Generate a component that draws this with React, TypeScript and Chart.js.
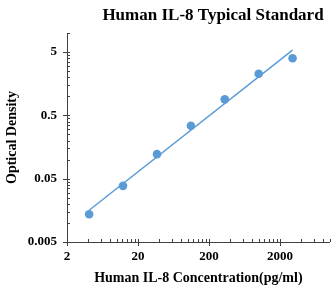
import React, { useEffect, useRef } from "react";
import { Chart, registerables } from "chart.js";

Chart.register(...registerables);

const concentrations = [4.1, 12.3, 37, 111, 333, 1000, 3000];
const odValues = [0.0137, 0.0385, 0.122, 0.342, 0.895, 2.27, 3.99];
const xMajorTicks = [2, 20, 200, 2000];
const yMajorTicks = [0.005, 0.05, 0.5, 5];
const minorMultipliers = [2, 3, 4, 5, 6, 7, 8, 9];
const chartTitle = "Human IL-8 Typical Standard";
const xTitle = "Human IL-8 Concentration(pg/ml)";
const yTitle = "Optical Density";

const BLUE = "#5B9BD5";
const AXIS = "#404040";
const FONT = "'Liberation Serif', 'Times New Roman', serif";

function buildTicks(majors: number[], max: number) {
  const out: number[] = [];
  majors.forEach((m) => {
    out.push(m);
    minorMultipliers.forEach((k) => {
      const v = +(m * k).toPrecision(6);
      if (v <= max + 1e-12) out.push(v);
    });
  });
  return out.filter((v) => v <= max + 1e-12);
}

function powerFit(xs: number[], ys: number[]) {
  const lx = xs.map(Math.log10);
  const ly = ys.map(Math.log10);
  const n = lx.length;
  const mx = lx.reduce((a, b) => a + b, 0) / n;
  const my = ly.reduce((a, b) => a + b, 0) / n;
  let sxy = 0;
  let sxx = 0;
  for (let i = 0; i < n; i++) {
    sxy += (lx[i] - mx) * (ly[i] - my);
    sxx += (lx[i] - mx) * (lx[i] - mx);
  }
  const b = sxy / sxx;
  const a = my - b * mx;
  return (x: number) => Math.pow(10, a + b * Math.log10(x));
}

export default function App() {
  const ref = useRef<HTMLCanvasElement>(null);

  useEffect(() => {
    if (!ref.current) return;
    const xMin = 2, xMax = 10000, yMin = 0.005, yMax = 10;
    const xTicks = buildTicks(xMajorTicks, xMax);
    const yTicks = buildTicks(yMajorTicks, yMax);
    const fit = powerFit(concentrations, odValues);
    const xLo = Math.min(...concentrations);
    const xHi = Math.max(...concentrations);
    const trend = [
      { x: xLo, y: fit(xLo) },
      { x: xHi, y: fit(xHi) },
    ];

    const tickPlugin = {
      id: "customTicks",
      afterDraw(chart: any) {
        const ctx = chart.ctx;
        const xs = chart.scales.x;
        const ys = chart.scales.y;
        const area = chart.chartArea;
        ctx.save();
        ctx.strokeStyle = AXIS;
        ctx.lineWidth = 1;
        ctx.beginPath();
        xTicks.forEach((v) => {
          const px = Math.round(xs.getPixelForValue(v)) + 0.5;
          const major = xMajorTicks.includes(v);
          ctx.moveTo(px, area.bottom - 3);
          ctx.lineTo(px, area.bottom + (major ? 4 : 0));
        });
        yTicks.forEach((v) => {
          const py = Math.round(ys.getPixelForValue(v)) + 0.5;
          const major = yMajorTicks.includes(v);
          ctx.moveTo(area.left - (major ? 4 : 0), py);
          ctx.lineTo(area.left + 3, py);
        });
        ctx.stroke();
        ctx.fillStyle = "#000";
        ctx.font = `bold 17px ${FONT}`;
        ctx.textAlign = "center";
        ctx.textBaseline = "middle";
        ctx.fillText(chartTitle, 213, 16);
        ctx.restore();
      },
    };

    const chart = new Chart(ref.current, {
      type: "scatter",
      data: {
        datasets: [
          {
            data: trend,
            showLine: true,
            borderColor: BLUE,
            borderWidth: 1.5,
            pointRadius: 0,
            fill: false,
          },
          {
            data: concentrations.map((x, i) => ({ x, y: odValues[i] })),
            backgroundColor: BLUE,
            borderColor: BLUE,
            pointRadius: 4.3,
            borderWidth: 0,
            showLine: false,
          },
        ],
      },
      options: {
        animation: false,
        responsive: false,
        devicePixelRatio: 1,
        layout: { padding: { top: 33, right: 0, left: 0, bottom: 0 } },
        plugins: {
          legend: { display: false },
          title: { display: false },
          tooltip: { enabled: false },
        },
        scales: {
          x: {
            type: "logarithmic",
            min: xMin,
            max: xMax,
            afterBuildTicks: (s: any) => {
              s.ticks = xTicks.map((v) => ({ value: v }));
            },
            afterFit: (s: any) => {
              s.height = 44;
              s.paddingRight = 0;
              s.paddingLeft = 0;
            },
            grid: { display: false, drawTicks: false },
            border: { display: true, color: AXIS, width: 1 },
            ticks: {
              autoSkip: false,
              maxRotation: 0,
              padding: 7,
              color: "#000",
              font: { family: FONT, size: 13, weight: "bold" },
              callback: (v: any) => (xMajorTicks.includes(Number(v)) ? String(v) : ""),
            },
            title: {
              display: true,
              text: xTitle,
              color: "#000",
              padding: { top: 0, bottom: -1 },
              font: { family: FONT, size: 14, weight: "bold" },
            },
          },
          y: {
            type: "logarithmic",
            min: yMin,
            max: yMax,
            afterBuildTicks: (s: any) => {
              s.ticks = yTicks.map((v) => ({ value: v }));
            },
            afterFit: (s: any) => {
              s.width = 67;
            },
            grid: { display: false, drawTicks: false },
            border: { display: true, color: AXIS, width: 1 },
            ticks: {
              autoSkip: false,
              padding: 10,
              color: "#000",
              font: { family: FONT, size: 13, weight: "bold" },
              callback: (v: any) => (yMajorTicks.includes(Number(v)) ? String(v) : ""),
            },
            title: {
              display: true,
              text: yTitle,
              color: "#000",
              padding: { top: 3.6, bottom: 0 },
              font: { family: FONT, size: 14, weight: "bold" },
            },
          },
        },
      },
      plugins: [tickPlugin],
    } as any);
    return () => chart.destroy();
  }, []);

  return (
    <div style={{ position: "fixed", left: 0, top: 0, width: 334, height: 286, background: "#fff" }}>
      <canvas ref={ref} width={334} height={286} />
    </div>
  );
}
